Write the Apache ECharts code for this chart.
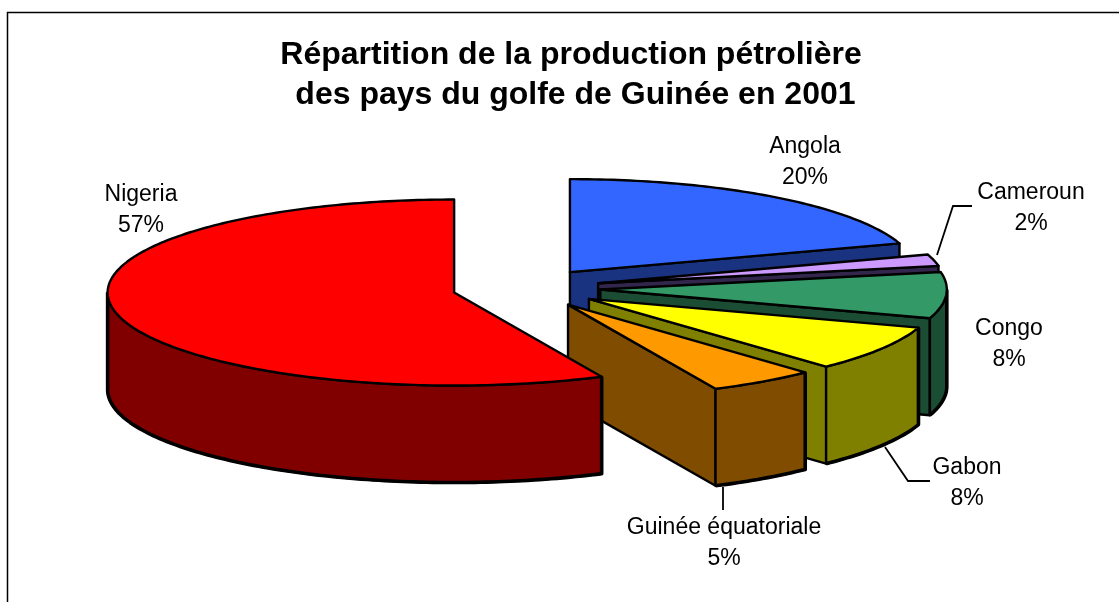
<!DOCTYPE html>
<html>
<head>
<meta charset="utf-8">
<title>Production pétrolière du golfe de Guinée 2001</title>
<script src="https://cdn.jsdelivr.net/npm/echarts@6/dist/echarts.min.js"></script>
<style>
  html, body { margin: 0; padding: 0; background: #fff; }
  #main { width: 1119px; height: 602px; }
</style>
</head>
<body>
<div id="main"></div>
<script>
  var countries = ['Angola', 'Cameroun', 'Congo', 'Gabon', 'Guinée équatoriale', 'Nigeria'];
  var shares = [20, 2, 8, 8, 5, 57];
  var topColors = ['#3366FF', '#CC99FF', '#339966', '#FFFF00', '#FF9900', '#FF0000'];
  var wallColors = ['#1A3380', '#33264D', '#1A4D33', '#808000', '#804D00', '#800000'];
  var titleText = 'Répartition de la production pétrolière\n des pays du golfe de Guinée en 2001';

  // pie projection, in pixels
  var cx = 526.4, cy = 288.2, rx = 346.5, ry = 93, depth = 97, explode = 0.2137;
  // label centres and leader lines
  var labelPos = [[805, 162], [1031, 208], [1009, 344], [967, 483], [724, 543], [141, 210]];
  var leaders = [
    null,
    [[937, 255], [953, 206], [972, 206]],
    null,
    [[885, 447], [908, 481], [930, 481]],
    [[723, 487], [723, 510]],
    null
  ];

  var total = shares.reduce(function (a, b) { return a + b; }, 0);
  var startAngles = [];
  shares.reduce(function (sum, v, i) { startAngles[i] = sum / total * 360; return sum + v; }, 0);

  function rad(d) { return d * Math.PI / 180; }

  function renderSlice(params, api) {
    var i = params.dataIndex;
    var a0 = startAngles[i], a1 = a0 + api.value(0) / total * 360;
    var mid = rad((a0 + a1) / 2);
    // exploded apex of this slice
    var ax = cx + explode * rx * Math.sin(mid);
    var ay = cy - explode * ry * Math.cos(mid);
    function rim(d, dy) {
      return [ax + rx * Math.sin(rad(d)), ay - ry * Math.cos(rad(d)) + (dy || 0)];
    }
    function arc(from, to, dy) {
      var pts = [], n = Math.max(2, Math.ceil(Math.abs(to - from)));
      for (var k = 0; k <= n; k++) pts.push(rim(from + (to - from) * k / n, dy));
      return pts;
    }
    var line = { stroke: '#000', lineWidth: 2.4, lineJoin: 'round' };
    var children = [];

    // cut face at the end of the slice, seen when it looks towards the viewer
    if (a1 < 180) {
      children.push({
        type: 'polygon',
        shape: { points: [[ax, ay], rim(a1), rim(a1, depth), [ax, ay + depth]] },
        style: Object.assign({ fill: wallColors[i] }, line)
      });
    }
    // outer wall, front half only
    var w0 = Math.max(a0, 90), w1 = Math.min(a1, 270);
    if (w1 > w0) {
      var bottom = arc(w0, w1, depth);
      children.push({
        type: 'polygon',
        shape: { points: arc(w0, w1).concat(bottom.slice().reverse()) },
        style: Object.assign({ fill: wallColors[i] }, line)
      });
      // heavier outline on the lower silhouette
      var outline = [rim(w0)].concat(bottom);
      if (w1 === 270) outline.push(rim(w1));
      children.push({
        type: 'polyline',
        shape: { points: outline },
        style: { stroke: '#000', lineWidth: 3.6, fill: null, lineJoin: 'round' }
      });
    }
    // top face
    children.push({
      type: 'polygon',
      shape: { points: [[ax, ay]].concat(arc(a0, a1)) },
      style: Object.assign({ fill: topColors[i] }, line)
    });
    if (leaders[i]) {
      children.push({
        type: 'polyline',
        shape: { points: leaders[i] },
        style: { stroke: '#000', lineWidth: 1.8, fill: null }
      });
    }
    children.push({
      type: 'text',
      style: {
        text: countries[i] + '\n' + api.value(0) + '%',
        x: labelPos[i][0], y: labelPos[i][1],
        align: 'center', verticalAlign: 'middle',
        font: '23px "Liberation Sans", Arial, sans-serif',
        lineHeight: 30.5, fill: '#000'
      }
    });
    return { type: 'group', children: children };
  }

  var chart = echarts.init(document.getElementById('main'));
  chart.setOption({
    animation: false,
    backgroundColor: '#fff',
    title: {
      text: titleText,
      left: 566,
      top: 30,
      textAlign: 'center',
      textStyle: {
        fontFamily: '"Liberation Sans", Arial, sans-serif',
        fontSize: 32, fontWeight: 'bold', color: '#000', lineHeight: 40
      }
    },
    graphic: [{
      type: 'polyline',
      shape: { points: [[7.5, 602], [7.5, 12.5], [1119, 12.5]] },
      style: { stroke: '#000', lineWidth: 1.5, fill: null }
    }],
    series: [{
      type: 'custom',
      coordinateSystem: 'none',
      renderItem: renderSlice,
      data: shares.map(function (v) { return [v]; })
    }]
  });
</script>
</body>
</html>
